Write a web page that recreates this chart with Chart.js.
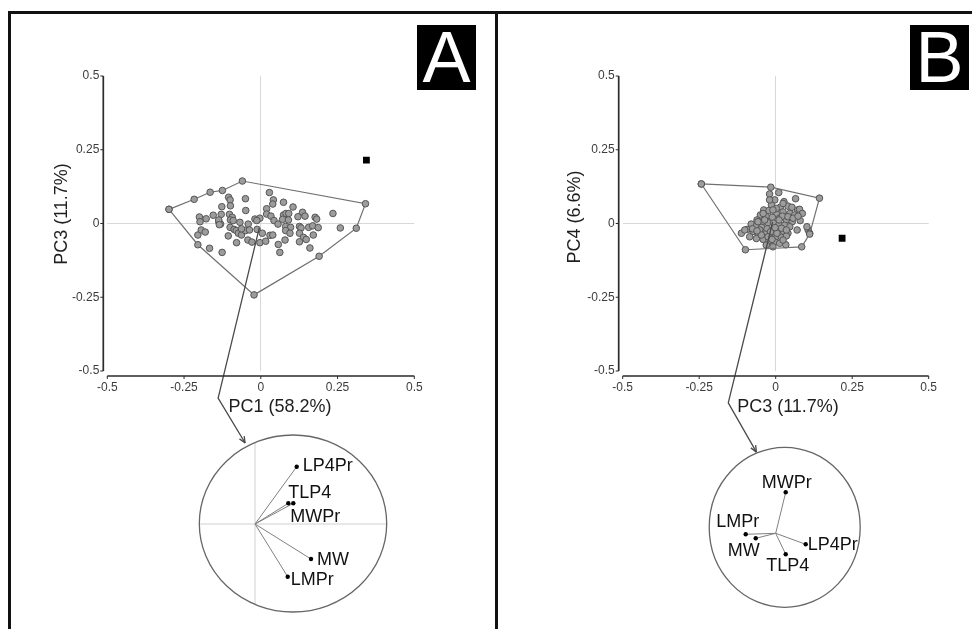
<!DOCTYPE html>
<html><head><meta charset="utf-8">
<script src="https://cdn.jsdelivr.net/npm/chart.js@4/dist/chart.umd.min.js"></script>
<style>
html,body{margin:0;padding:0;background:#fff;}
body{width:972px;height:629px;position:relative;overflow:hidden;font-family:"Liberation Sans",Arial,sans-serif;}
canvas.layer{position:absolute;left:0;top:0;}
.rule{position:absolute;background:#111;}
.tag{position:absolute;background:#000;color:#fff;font:72px/65px "Liberation Sans",Arial,sans-serif;text-align:center;width:59px;height:65px;top:25px;}
</style></head><body>
<canvas id="mainA" class="layer" width="972" height="629"></canvas>
<canvas id="mainB" class="layer" width="972" height="629"></canvas>
<canvas id="bipA" class="layer" width="972" height="629"></canvas>
<canvas id="bipB" class="layer" width="972" height="629"></canvas>
<div class="rule" style="left:8px;top:11px;width:964px;height:2.5px"></div>
<div class="rule" style="left:8px;top:11px;width:2.5px;height:618px"></div>
<div class="rule" style="left:495px;top:11px;width:2.5px;height:618px"></div>
<div class="tag" style="left:417px">A</div>
<div class="tag" style="left:910px">B</div>
<script>
// ---------- data ----------
const tickValues = [-0.5, -0.25, 0, 0.25, 0.5];
const tickLabels = ["-0.5", "-0.25", "0", "0.25", "0.5"];

// Panel A: PC1 vs PC3
const a_pc1 = [-0.105,-0.100,-0.050,0.028,0.041,0.039,0.074,-0.127,-0.049,-0.099,0.019,0.105,0.136,0.235,-0.200,-0.178,-0.155,-0.129,-0.137,-0.102,-0.093,-0.099,-0.068,-0.041,-0.019,-0.003,-0.013,0.019,0.033,0.043,0.056,0.074,0.082,0.091,0.071,0.090,0.121,0.144,0.177,0.182,0.081,0.097,0.126,0.131,0.156,0.169,0.187,0.259,-0.205,-0.194,-0.181,-0.131,-0.100,-0.087,-0.080,-0.073,-0.063,-0.050,-0.037,-0.012,0.005,0.030,0.039,0.081,0.095,0.126,0.139,0.148,0.171,-0.167,-0.126,-0.106,-0.079,-0.042,-0.029,-0.003,0.016,0.057,0.079,0.062,0.126,0.160,-0.198,-0.137,-0.135,-0.090,-0.063];
const a_pc3 = [0.089,0.080,0.084,0.105,0.080,0.066,0.072,0.057,0.044,0.060,0.050,0.056,0.038,0.034,0.022,0.016,0.028,0.031,0.006,0.031,0.021,0.012,0.004,-0.002,0.015,0.018,0.010,0.032,0.025,0.010,-0.002,0.029,0.034,0.034,0.014,0.012,0.023,0.025,0.021,0.015,-0.010,-0.013,-0.010,-0.015,-0.013,-0.008,-0.014,-0.015,-0.039,-0.022,-0.029,-0.002,-0.013,-0.020,-0.024,-0.033,-0.039,-0.024,-0.022,-0.020,-0.033,-0.040,-0.039,-0.024,-0.033,-0.033,-0.047,-0.054,-0.039,-0.084,-0.098,-0.042,-0.065,-0.056,-0.063,-0.065,-0.060,-0.071,-0.056,-0.098,-0.062,-0.083,0.006,0.012,-0.004,0.010,-0.018];
const a_hull_pc1 = [-0.299,-0.217,-0.165,-0.125,-0.060,0.341,0.311,0.190,-0.022,-0.205];
const a_hull_pc3 = [0.048,0.082,0.106,0.112,0.144,0.067,-0.016,-0.111,-0.242,-0.072];
const a_target = [0.344, 0.215];

// Panel B: PC3 vs PC4
const b_pc3 = [-0.020,0.010,-0.003,0.027,0.065,-0.014,0.015,0.040,0.053,0.072,0.078,0.087,-0.039,-0.022,0.002,0.024,0.046,0.062,0.080,-0.050,-0.031,-0.011,0.013,0.035,0.054,-0.061,-0.044,-0.025,-0.007,0.011,0.029,0.046,-0.080,-0.063,-0.046,-0.028,-0.009,0.009,0.026,0.040,-0.093,-0.074,-0.058,-0.036,-0.017,0.000,0.019,0.035,-0.112,-0.085,-0.063,-0.041,-0.022,-0.003,0.013,0.033,-0.009,-0.031,0.070,0.106,0.111,0.102,-0.052,-0.036,0.002,0.022,-0.017,0.004,0.019,0.035,-0.101,-0.076,-0.058,-0.041,-0.009,0.040,0.057,-0.020,0.024,0.011,-0.002,-0.025,-0.047,-0.061,-0.012,0.024,0.073];
const b_pc4 = [0.100,0.105,0.080,0.074,0.084,0.063,0.055,0.059,0.055,0.046,0.048,0.034,0.046,0.044,0.034,0.039,0.034,0.029,0.010,0.029,0.023,0.021,0.018,0.012,0.006,0.012,0.006,0.003,0.001,-0.002,-0.006,-0.011,-0.002,-0.008,-0.013,-0.018,-0.020,-0.022,-0.027,-0.033,-0.020,-0.027,-0.033,-0.036,-0.040,-0.045,-0.047,-0.042,-0.033,-0.045,-0.051,-0.054,-0.058,-0.063,-0.067,-0.072,-0.079,-0.073,-0.022,-0.022,-0.033,-0.011,-0.022,0.012,0.051,0.025,-0.028,-0.033,-0.016,-0.022,-0.022,-0.018,0.006,0.034,0.046,0.023,0.018,0.080,0.068,0.012,-0.014,-0.045,-0.039,-0.025,-0.054,-0.056,0.025];
const b_hull_pc3 = [-0.243,-0.016,0.143,0.111,0.085,-0.099];
const b_hull_pc4 = [0.134,0.123,0.086,-0.036,-0.079,-0.089];
const b_target = [0.217, -0.050];

// Loadings (biplot insets)
const variables = ["LP4Pr", "TLP4", "MWPr", "MW", "LMPr"];
const a_load_x = [0.417, 0.333, 0.383, 0.560, 0.327];
const a_load_y = [0.573, 0.207, 0.207, -0.350, -0.527];
const b_load_x = [0.300, 0.100, 0.100, -0.200, -0.300];
const b_load_y = [-0.110, -0.210, 0.410, -0.050, -0.010];

// ---------- rendering ----------
Chart.defaults.font.family = "'Liberation Sans', Arial, sans-serif";
const FONT = '"Liberation Sans", Arial, sans-serif';

const decor = {
  id: 'pcaDecor',
  afterDatasetsDraw(chart, args, o) {
    const {ctx, scales: {x, y}} = chart;
    const c = o.connector;
    const pts = c.x.map((vx, i) => [x.getPixelForValue(vx), y.getPixelForValue(c.y[i])]);
    ctx.save();
    ctx.strokeStyle = '#4a4a4a'; ctx.lineWidth = 1.3;
    ctx.beginPath();
    pts.forEach((p, i) => i ? ctx.lineTo(p[0], p[1]) : ctx.moveTo(p[0], p[1]));
    ctx.stroke();
    const p1 = pts[pts.length - 2], p2 = pts[pts.length - 1];
    const ang = Math.atan2(p2[1] - p1[1], p2[0] - p1[0]);
    ctx.beginPath();
    for (const s of [-1, 1]) {
      ctx.moveTo(p2[0], p2[1]);
      ctx.lineTo(p2[0] - 7 * Math.cos(ang + s * 0.4), p2[1] - 7 * Math.sin(ang + s * 0.4));
    }
    ctx.stroke();
    ctx.restore();
  },
  afterDraw(chart, args, o) {
    const {ctx, chartArea: ca, scales: {x, y}} = chart;
    ctx.save();
    const ax = ca.left - 4, ay = ca.bottom + 5;
    const v0 = tickValues[0], v1 = tickValues[tickValues.length - 1];
    ctx.strokeStyle = '#2b2b2b'; ctx.lineWidth = 1.7;
    ctx.beginPath();
    ctx.moveTo(ax, y.getPixelForValue(v1)); ctx.lineTo(ax, y.getPixelForValue(v0));
    ctx.moveTo(x.getPixelForValue(v0), ay); ctx.lineTo(x.getPixelForValue(v1), ay);
    ctx.stroke();
    ctx.lineWidth = 1;
    ctx.beginPath();
    tickValues.forEach(v => {
      const py = y.getPixelForValue(v); ctx.moveTo(ax - 3, py); ctx.lineTo(ax, py);
      const px = x.getPixelForValue(v); ctx.moveTo(px, ay); ctx.lineTo(px, ay + 3);
    });
    ctx.stroke();
    ctx.fillStyle = '#1e1e1e';
    ctx.font = '18px ' + FONT;
    ctx.textAlign = 'center'; ctx.textBaseline = 'middle';
    ctx.fillText(o.xTitle, o.xTitlePos[0], o.xTitlePos[1]);
    ctx.translate(o.yTitlePos[0], o.yTitlePos[1]);
    ctx.rotate(-Math.PI / 2);
    ctx.fillText(o.yTitle, 0, 0);
    ctx.restore();
  }
};

const zeroGrid = c => (c.tick && c.tick.value === 0) ? '#d8d8d8' : 'rgba(0,0,0,0)';
function axisOpts(isX) {
  return {
    type: 'linear', min: -0.5, max: 0.5,
    afterBuildTicks: s => { s.ticks = tickValues.map(v => ({value: v})); },
    afterFit: s => { if (isX) s.height = 40; else s.width = 60; },
    border: {display: false},
    grid: {drawTicks: false, color: zeroGrid, lineWidth: 1},
    ticks: {padding: isX ? 9 : 8, color: '#3c3c3c', font: {size: 12},
      callback: v => { const i = tickValues.indexOf(v); return i >= 0 ? tickLabels[i] : ''; }}
  };
}

function mainChart(id, xs, ys, hx, hy, target, o) {
  const pts = xs.map((v, i) => ({x: v, y: ys[i]}));
  const hull = hx.map((v, i) => ({x: v, y: hy[i]}));
  hull.push(hull[0]);
  return new Chart(document.getElementById(id), {
    type: 'scatter',
    data: {datasets: [
      {label: 'target', data: [{x: target[0], y: target[1]}], pointStyle: 'rect', pointRadius: 4.8,
       backgroundColor: '#000', borderColor: '#000', borderWidth: 0},
      {label: 'hull', data: hull, showLine: true, borderColor: '#707070', borderWidth: 1.2,
       pointRadius: 3.3, pointBackgroundColor: '#9c9c9c', pointBorderColor: '#555', pointBorderWidth: 1},
      {label: 'specimens', data: pts, pointRadius: 3.3, backgroundColor: '#9c9c9c', borderColor: '#555', borderWidth: 1}
    ]},
    options: {
      responsive: false, animation: false, events: [],
      layout: {padding: o.pad},
      plugins: {legend: {display: false}, tooltip: {enabled: false}, pcaDecor: o},
      scales: {x: axisOpts(true), y: axisOpts(false)}
    },
    plugins: [decor]
  });
}

const biplotDecor = {
  id: 'biplotDecor',
  beforeDatasetsDraw(chart, args, o) {
    const {ctx, scales: {x, y}} = chart;
    const cx = x.getPixelForValue(o.cx), cy = y.getPixelForValue(o.cy);
    const rx = x.getPixelForValue(o.cx + o.rx) - cx, ry = cy - y.getPixelForValue(o.cy + o.ry);
    ctx.save();
    if (o.cross) {
      ctx.strokeStyle = '#d0d0d0'; ctx.lineWidth = 1;
      const dy = (0 - o.cy) / o.ry, hw = o.rx * Math.sqrt(1 - dy * dy);
      const dx = (0 - o.cx) / o.rx, hh = o.ry * Math.sqrt(1 - dx * dx);
      ctx.beginPath();
      ctx.moveTo(x.getPixelForValue(o.cx - hw), y.getPixelForValue(0));
      ctx.lineTo(x.getPixelForValue(o.cx + hw), y.getPixelForValue(0));
      ctx.moveTo(x.getPixelForValue(0), y.getPixelForValue(o.cy + hh));
      ctx.lineTo(x.getPixelForValue(0), y.getPixelForValue(o.cy - hh));
      ctx.stroke();
    }
    ctx.strokeStyle = '#666'; ctx.lineWidth = 1.3;
    ctx.beginPath(); ctx.ellipse(cx, cy, rx, ry, 0, 0, 2 * Math.PI); ctx.stroke();
    ctx.restore();
  },
  afterDatasetsDraw(chart, args, o) {
    const {ctx, scales: {x, y}} = chart;
    ctx.save();
    ctx.fillStyle = '#111'; ctx.font = '18px ' + FONT; ctx.textBaseline = 'middle';
    chart.data.datasets.forEach((ds, i) => {
      const p = ds.data[1], off = o.labelOffsets[i];
      ctx.textAlign = off[2];
      ctx.fillText(ds.label, x.getPixelForValue(p.x) + off[0], y.getPixelForValue(p.y) + off[1]);
    });
    ctx.restore();
  }
};

function biplot(id, lx, ly, o) {
  return new Chart(document.getElementById(id), {
    type: 'scatter',
    data: {datasets: variables.map((v, i) => ({
      label: v, data: [{x: 0, y: 0}, {x: lx[i], y: ly[i]}], showLine: true,
      borderColor: '#808080', borderWidth: 1, pointRadius: [0, 2.2],
      pointBackgroundColor: '#000', pointBorderColor: '#000', pointBorderWidth: 0
    }))},
    options: {
      responsive: false, animation: false, events: [],
      layout: {padding: o.pad},
      plugins: {legend: {display: false}, tooltip: {enabled: false}, biplotDecor: o},
      scales: {x: {type: 'linear', min: o.xr[0], max: o.xr[1], display: false},
               y: {type: 'linear', min: o.yr[0], max: o.yr[1], display: false}}
    },
    plugins: [biplotDecor]
  });
}

mainChart('mainA', a_pc1, a_pc3, a_hull_pc1, a_hull_pc3, a_target, {
  pad: {left: 47.3, right: 557.7, top: 76, bottom: 218},
  xTitle: 'PC1 (58.2%)', xTitlePos: [280, 407],
  yTitle: 'PC3 (11.7%)', yTitlePos: [62, 214],
  connector: {x: [-0.005, -0.139, -0.051], y: [-0.015, -0.592, -0.744]}
});
mainChart('mainB', b_pc3, b_pc4, b_hull_pc3, b_hull_pc4, b_target, {
  pad: {left: 562.7, right: 43.3, top: 76, bottom: 218},
  xTitle: 'PC3 (11.7%)', xTitlePos: [788, 407],
  yTitle: 'PC4 (6.6%)', yTitlePos: [575, 217],
  connector: {x: [-0.010, -0.155, -0.063], y: [0.005, -0.608, -0.775]}
});
biplot('bipA', a_load_x, a_load_y, {
  pad: {left: 105, right: 567, top: 424, bottom: 5},
  xr: [-1.5, 1.5], yr: [-1, 1],
  cx: 0.38, cy: 0.005, rx: 0.937, ry: 0.885, cross: true,
  labelOffsets: [[6, -1, 'left'], [0, -10, 'left'], [-3, 13.5, 'left'], [6, 1, 'left'], [3, 3.5, 'left']]
});
biplot('bipB', b_load_x, b_load_y, {
  pad: {left: 625.7, right: 46.3, top: 423.3, bottom: 5.7},
  xr: [-1.5, 1.5], yr: [-0.9, 1.1],
  cx: 0.09, cy: 0.06, rx: 0.755, ry: 0.80, cross: false,
  labelOffsets: [[2, 1, 'left'], [2, 12, 'center'], [1, -9, 'center'], [-12, 13, 'center'], [-8, -12.5, 'center']]
});
</script>
</body></html>
